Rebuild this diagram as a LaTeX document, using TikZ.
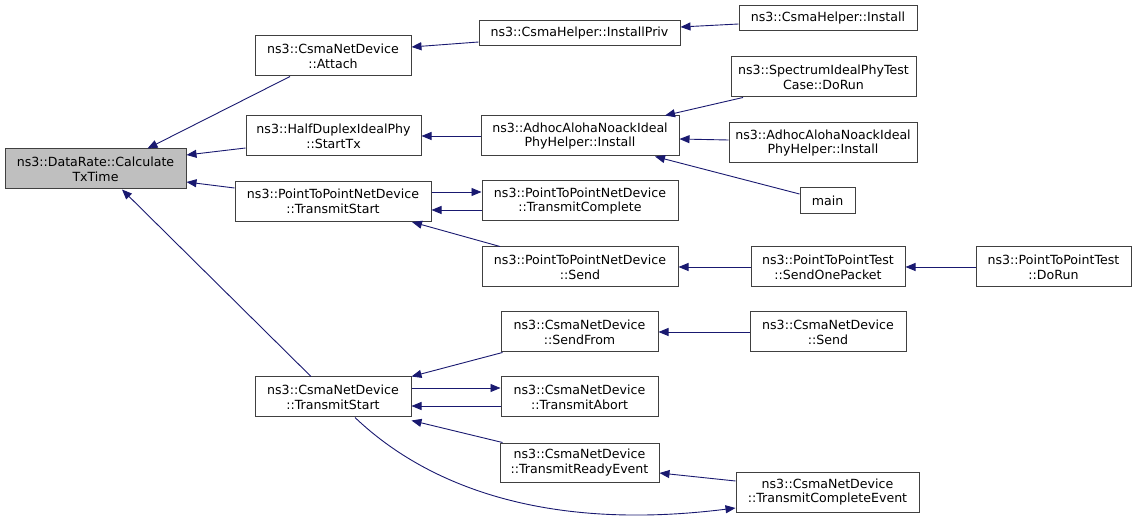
\documentclass[tikz,border=0pt]{standalone}
\usepackage{fontspec}
\setmainfont{DejaVu Sans}
\usetikzlibrary{arrows.meta}
\definecolor{edgec}{HTML}{191970}
\definecolor{boxc}{HTML}{404040}
\definecolor{rootc}{HTML}{BFBFBF}
\tikzset{
  fn/.style={draw=boxc, line width=1pt, fill=white, inner sep=0pt, align=center,
    font=\fontsize{12.6}{14.7}\selectfont, text=black},
  edge/.style={draw=edgec, line width=0.9pt, -{Triangle[length=10pt,width=8pt]}},
}
\begin{document}
\begin{tikzpicture}[x=1pt,y=-1pt]
\useasboundingbox (0,0) rectangle (1136,521);
% nodes
\node[fn, fill=rootc, minimum width=181, minimum height=40] (DR) at (95.5,169) {ns3::DataRate::Calculate\\TxTime};
\node[fn, minimum width=156, minimum height=40] (Attach) at (333,56) {ns3::CsmaNetDevice\\::Attach};
\node[fn, minimum width=175, minimum height=40] (StartTx) at (333.5,136) {ns3::HalfDuplexIdealPhy\\::StartTx};
\node[fn, minimum width=196, minimum height=40] (PTS) at (333,201.5) {ns3::PointToPointNetDevice\\::TransmitStart};
\node[fn, minimum width=156, minimum height=40] (CTS) at (333,397) {ns3::CsmaNetDevice\\::TransmitStart};
\node[fn, minimum width=201, minimum height=25] (IPriv) at (579.5,33.5) {ns3::CsmaHelper::InstallPriv};
\node[fn, minimum width=178, minimum height=25] (CHI) at (828,18.5) {ns3::CsmaHelper::Install};
\node[fn, minimum width=185, minimum height=40] (Spec) at (823.5,77) {ns3::SpectrumIdealPhyTest\\Case::DoRun};
\node[fn, minimum width=198, minimum height=40] (AdL) at (580,136) {ns3::AdhocAlohaNoackIdeal\\PhyHelper::Install};
\node[fn, minimum width=188, minimum height=40] (AdR) at (823,143) {ns3::AdhocAlohaNoackIdeal\\PhyHelper::Install};
\node[fn, minimum width=55, minimum height=26] (Main) at (827.5,201) {main};
\node[fn, minimum width=196, minimum height=40] (TC) at (580,201) {ns3::PointToPointNetDevice\\::TransmitComplete};
\node[fn, minimum width=196, minimum height=40] (PSend) at (580,267) {ns3::PointToPointNetDevice\\::Send};
\node[fn, minimum width=154, minimum height=40] (SOP) at (828,267) {ns3::PointToPointTest\\::SendOnePacket};
\node[fn, minimum width=155, minimum height=40] (PDoRun) at (1053.5,267) {ns3::PointToPointTest\\::DoRun};
\node[fn, minimum width=157, minimum height=40] (SFrom) at (579.5,332) {ns3::CsmaNetDevice\\::SendFrom};
\node[fn, minimum width=156, minimum height=40] (CSend) at (828,332) {ns3::CsmaNetDevice\\::Send};
\node[fn, minimum width=157, minimum height=40] (Abort) at (579.5,397) {ns3::CsmaNetDevice\\::TransmitAbort};
\node[fn, minimum width=159, minimum height=39] (Ready) at (579.5,462.5) {ns3::CsmaNetDevice\\::TransmitReadyEvent};
\node[fn, minimum width=183, minimum height=40] (CEv) at (827.5,492) {ns3::CsmaNetDevice\\::TransmitCompleteEvent};
% edges
\draw[edge] ([xshift=-43pt]Attach.south) -- ([xshift=52pt]DR.north);
\draw[edge] ([yshift=-12pt]StartTx.west) -- ([yshift=14pt]DR.east);
\draw[edge] ([yshift=13.5pt]PTS.west) -- ([yshift=-13pt]DR.east);
\draw[edge] ([xshift=-22pt]CTS.north) -- ([xshift=26.5pt]DR.south);
\draw[edge] ([yshift=-8.5pt]IPriv.west) -- ([yshift=9pt]Attach.east);
\draw[edge] ([yshift=-5.5pt]CHI.west) -- ([yshift=6.5pt]IPriv.east);
\draw[edge] (AdL.west) -- (StartTx.east);
\draw[edge] ([xshift=-80.5pt]Spec.south) -- ([xshift=85pt]AdL.north);
\draw[edge] ([yshift=3pt]AdR.west) -- ([yshift=-3pt]AdL.east);
\draw[edge] ([yshift=7pt]Main.west) -- ([xshift=75pt]AdL.south);
\draw[edge] ([yshift=9.5pt]PTS.east) -- ([yshift=9pt]TC.west);
\draw[edge] ([yshift=-9pt]TC.west) -- ([yshift=-8.5pt]PTS.east);
\draw[edge] ([xshift=-80pt]PSend.north) -- ([xshift=79pt]PTS.south);
\draw[edge] (SOP.west) -- (PSend.east);
\draw[edge] (PDoRun.west) -- (SOP.east);
\draw[edge] ([xshift=2pt]SFrom.south west) -- (CTS.north east);
\draw[edge] (CSend.west) -- (SFrom.east);
\draw[edge] ([yshift=9pt]CTS.east) -- ([yshift=9pt]Abort.west);
\draw[edge] ([yshift=-9pt]Abort.west) -- ([yshift=-9pt]CTS.east);
\draw[edge] ([xshift=3pt]Ready.north west) -- ([yshift=-3pt]CTS.south east);
\draw[edge] ([yshift=11pt]CEv.west) -- ([yshift=-10.5pt]Ready.east);
\draw[edge] ([xshift=22pt]CTS.south) .. controls (410,470) and (520,535) .. ([yshift=-16pt]CEv.west);
\end{tikzpicture}
\end{document}
